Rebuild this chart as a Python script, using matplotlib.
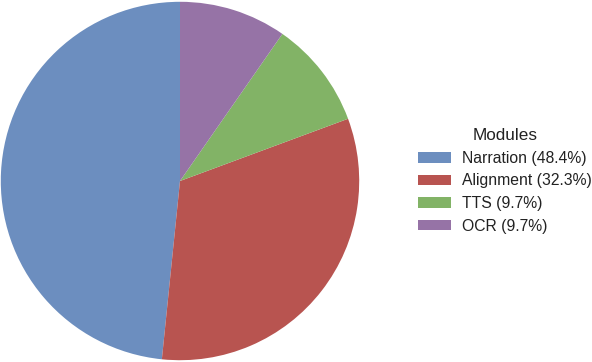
import matplotlib.pyplot as plt

plt.rcParams['font.family'] = ['Liberation Sans', 'DejaVu Sans']

# module counts (15/31 = 48.4%, 10/31 = 32.3%, 3/31 = 9.7%)
modules = ['Narration', 'Alignment', 'TTS', 'OCR']
counts = [15, 10, 3, 3]
colors = ['#6c8ebf', '#b85450', '#82b366', '#9673a6']

total = sum(counts)
labels = [f'{m} ({c / total * 100:.1f}%)' for m, c in zip(modules, counts)]

fig = plt.figure(figsize=(5.92, 3.62), dpi=100)
ax = fig.add_axes([0.0, 0.0, 360 / 592, 1.0])
wedges, _ = ax.pie(counts, colors=colors, startangle=90, counterclock=True,
                   radius=1.0, wedgeprops={'linewidth': 0})
ax.set_xlim(-1.0, 1.0)
ax.set_ylim(-1.01, 1.01)
ax.set_aspect('equal')

leg = fig.legend(wedges, labels, title='Modules', loc='center left',
                 bbox_to_anchor=(407 / 592, 0.5), frameon=False,
                 fontsize=11.3, title_fontsize=12.3, handlelength=2.1,
                 handleheight=0.63, labelspacing=0.48, handletextpad=0.72,
                 borderpad=0.2)
leg.get_title().set_color('#222222')
for t in leg.get_texts():
    t.set_color('#222222')

plt.savefig('out.png', dpi=100)
